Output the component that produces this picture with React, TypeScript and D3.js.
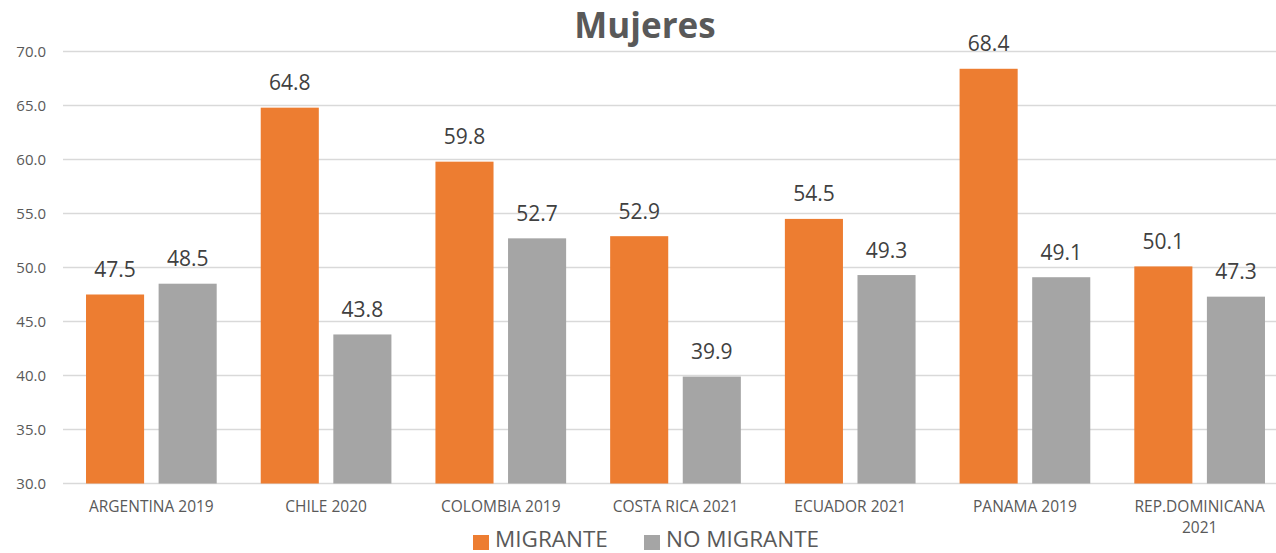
import React from "react";
import * as d3 from "d3";

const categories = ["ARGENTINA 2019", "CHILE 2020", "COLOMBIA 2019", "COSTA RICA 2021", "ECUADOR 2021", "PANAMA 2019", "REP.DOMINICANA 2021"];
const categoryLines = [["ARGENTINA 2019"], ["CHILE 2020"], ["COLOMBIA 2019"], ["COSTA RICA 2021"], ["ECUADOR 2021"], ["PANAMA 2019"], ["REP.DOMINICANA", "2021"]];
const migrante = [47.5, 64.8, 59.8, 52.9, 54.5, 68.4, 50.1];
const noMigrante = [48.5, 43.8, 52.7, 39.9, 49.3, 49.1, 47.3];
const yTicks = [30, 35, 40, 45, 50, 55, 60, 65, 70];
const seriesNames = ["MIGRANTE", "NO MIGRANTE"];
const colors = ["#ED7D31", "#A5A5A5"];

export default function App() {
  const W = 1276, H = 553;
  const x = d3.scaleBand().domain(categories).range([64, 1287]).paddingInner(0).paddingOuter(0);
  const y = d3.scaleLinear().domain([30, 70]).range([483.5, 51.5]);
  const bw = x.bandwidth();
  const inner = d3.scaleBand().domain(seriesNames).range([bw * 0.126, bw * 0.874]).paddingInner(0.2);
  const font = "'Open Sans', 'Liberation Sans', sans-serif";
  const series = [migrante, noMigrante];
  return (
    <svg width={W} height={H} style={{ position: "absolute", left: 0, top: 0, background: "#fff" }} fontFamily={font}>
      <rect width={W} height={H} fill="#fff" />
      {yTicks.map((t) => (
        <g key={t}>
          <line x1={63} x2={1287} y1={y(t)} y2={y(t)} stroke="#D9D9D9" strokeWidth={1.3} />
          <text x={46} y={y(t)} dy="0.35em" textAnchor="end" fontSize={15} fill="#595959">{t.toFixed(1)}</text>
        </g>
      ))}
      {categories.map((c, i) => (
        <g key={c}>
          {series.map((s, j) => {
            const bx = (x(c) as number) + (inner(seriesNames[j]) as number);
            return (
              <g key={j}>
                <rect x={bx} y={y(s[i])} width={inner.bandwidth()} height={y(30) - y(s[i])} fill={colors[j]} />
                <text x={bx + inner.bandwidth() / 2} y={y(s[i]) - 17.5} textAnchor="middle" fontSize={21} fill="#404040">{s[i].toFixed(1)}</text>
              </g>
            );
          })}
          {categoryLines[i].map((ln, k) => (
            <text key={k} x={(x(c) as number) + bw / 2} y={512 + k * 21} textAnchor="middle" fontSize={15.5} fill="#595959">{ln}</text>
          ))}
        </g>
      ))}
      <text x={645} y={38} textAnchor="middle" fontSize={35} fontWeight="bold" fill="#595959">Mujeres</text>
      <rect x={473} y={535} width={16} height={15} fill={colors[0]} />
      <text x={495} y={547} fontSize={22.5} fill="#595959">MIGRANTE</text>
      <rect x={644} y={535} width={16} height={15} fill={colors[1]} />
      <text x={666} y={547} fontSize={22.5} fill="#595959">NO MIGRANTE</text>
    </svg>
  );
}
